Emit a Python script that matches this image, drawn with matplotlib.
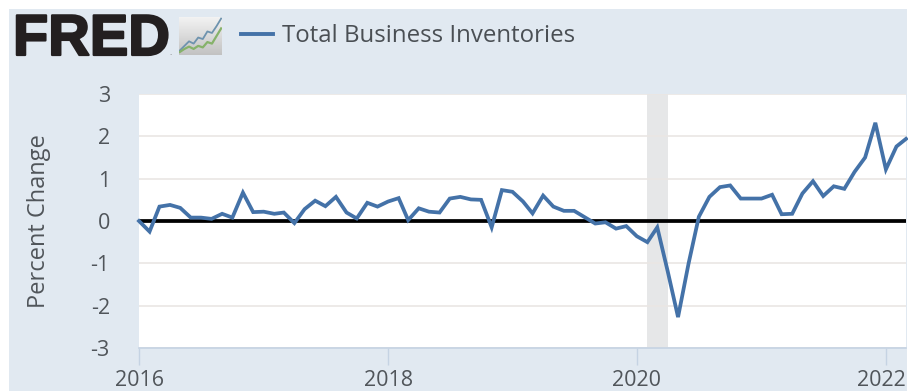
import matplotlib
matplotlib.use('Agg')
import matplotlib.pyplot as plt
import matplotlib.dates as mdates
import matplotlib.patheffects as pe
from matplotlib.transforms import ScaledTranslation
import numpy as np
import pandas as pd

plt.rcParams['font.family'] = ['Open Sans', 'DejaVu Sans']

# monthly percent change, Jan 2016 onwards
pct_change = [
    0.00, -0.25, 0.34, 0.38, 0.31, 0.08, 0.08, 0.05, 0.17, 0.08, 0.67, 0.21,
    0.22, 0.17, 0.20, -0.05, 0.28, 0.48, 0.35, 0.57, 0.20, 0.06, 0.43, 0.34,
    0.46, 0.54, 0.02, 0.30, 0.22, 0.20, 0.53, 0.57, 0.51, 0.50, -0.15, 0.73,
    0.69, 0.46, 0.18, 0.60, 0.34, 0.24, 0.24, 0.09, -0.06, -0.03, -0.18, -0.12,
    -0.36, -0.50, -0.15, -1.20, -2.27, -1.00, 0.10, 0.57, 0.80, 0.84, 0.53, 0.53,
    0.53, 0.62, 0.16, 0.17, 0.65, 0.94, 0.59, 0.82, 0.76, 1.16, 1.50, 2.32,
    1.22, 1.76, 1.94,
]
dates = pd.date_range('2016-01-01', periods=len(pct_change), freq='MS')
recession = ['2020-02-01', '2020-04-01']
y_ticks = [-3, -2, -1, 0, 1, 2, 3]
x_tick_years = ['2016', '2018', '2020', '2022']

# little logo chart
logo_blue = [0.12, 0.24, 0.36, 0.30, 0.46, 0.42, 0.62, 0.58, 0.76, 0.96]
logo_green = [0.08, 0.16, 0.22, 0.16, 0.24, 0.20, 0.34, 0.30, 0.50, 0.70]

W, H = 908, 391
BG = '#E1E9F1'
TXT = '#50555A'


def box(x0, y0, x1, y1):
    # pixel box (top-left origin) to figure fractions
    return [x0 / W, 1 - y1 / H, (x1 - x0) / W, (y1 - y0) / H]


fig = plt.figure(figsize=(W / 100, H / 100), dpi=100, facecolor='white')
fig.patches.append(plt.Rectangle((9 / W, 0), 898 / W, 1 - 9 / H, transform=fig.transFigure,
                                 facecolor=BG, edgecolor='none', zorder=-5))

ax = fig.add_axes(box(139, 94, 906, 348))
ax.set_facecolor('white')
ax.set_ylim(-3, 3)
ax.set_xlim(dates[0], dates[-1])
ax.axvspan(pd.Timestamp(recession[0]), pd.Timestamp(recession[1]), color='#E6E7E8', lw=0, zorder=1)
ax.set_yticks(y_ticks)
ax.grid(axis='y', color='#EAE6E4', lw=1.2, zorder=0)
ax.axhline(0, color='black', lw=2.7, zorder=3)
ax.plot(dates, pct_change, color='#4472A8', lw=2.7, solid_joinstyle='miter', zorder=4, clip_on=False)

ax.set_xticks([pd.Timestamp(y + '-01-01') for y in x_tick_years])
ax.xaxis.set_major_formatter(mdates.DateFormatter('%Y'))
for s in ['top', 'right', 'left']:
    ax.spines[s].set_visible(False)
ax.spines['bottom'].set_color('#C5D3E3')
ax.spines['bottom'].set_linewidth(1.2)
ax.tick_params(axis='x', length=12, width=1, color='#C5D3E3', labelsize=15.5, labelcolor=TXT, pad=3.5)
ax.tick_params(axis='y', length=0, labelsize=15.5, labelcolor=TXT, pad=21)
ax.set_yticklabels([str(v) for v in y_ticks])

# last year label is pulled in so it stays inside the frame
last_label = ax.get_xticklabels()[-1]
last_label.set_transform(last_label.get_transform()
                         + ScaledTranslation(-5 / 72 * 0.72, 0, fig.dpi_scale_trans))

fig.text(39 / W, 1 - 221 / H, 'Percent Change', rotation=90, ha='center', va='center',
         fontsize=17, color=TXT)

# header: wordmark, icon and legend
fig.text(13 / W, 1 - 55 / H, 'FRED', family='Liberation Sans', weight='bold', fontsize=41.5,
         color='#231F20', ha='left', va='baseline',
         path_effects=[pe.withStroke(linewidth=1.6, foreground='#231F20')])
fig.text(169 / W, 1 - 55 / H, '.', fontsize=6, color='#777777', ha='left', va='baseline')

icon = fig.add_axes(box(179, 17, 222, 55))
icon.imshow(np.linspace(0.95, 0.76, 40).reshape(-1, 1), cmap='gray', vmin=0, vmax=1,
            aspect='auto', extent=[0, 1, 0, 1])
icon_x = np.linspace(0.02, 0.98, len(logo_blue))
icon.plot(icon_x, logo_blue, color='#6E93AE', lw=1.3)
icon.plot(icon_x, logo_green, color='#86B26A', lw=1.6)
icon.set_xlim(0, 1)
icon.set_ylim(0, 1)
icon.axis('off')

fig.add_artist(plt.Line2D([241 / W, 273 / W], [1 - 34 / H, 1 - 34 / H], color='#4472A8', lw=2.8,
                          transform=fig.transFigure))
fig.text(282 / W, 1 - 36 / H, 'Total Business Inventories', fontsize=17.3, color='#4A4F54',
         ha='left', va='center')

fig.savefig('out.png', dpi=100, facecolor=fig.get_facecolor())
